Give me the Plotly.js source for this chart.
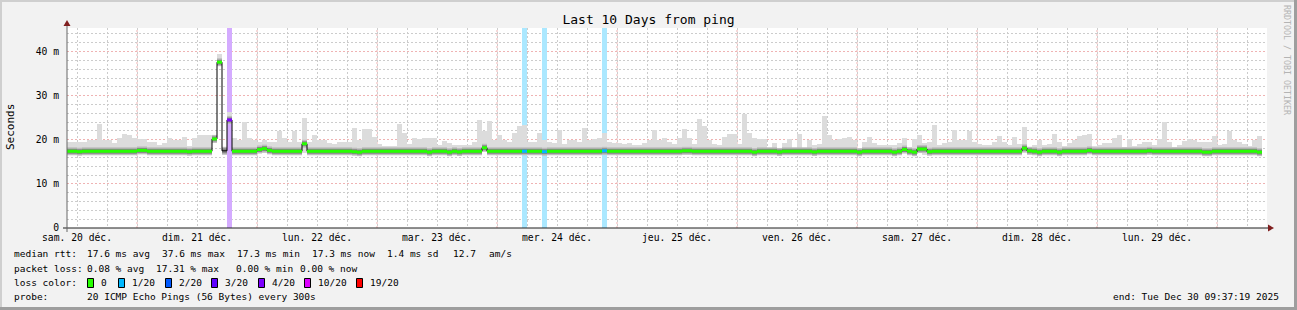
<!DOCTYPE html>
<html><head><meta charset="utf-8">
<script src="https://cdn.plot.ly/plotly-3.0.1.min.js"></script>
<style>html,body{margin:0;padding:0;background:#f2f2f2;}#chart{width:1297px;height:310px;}</style>
</head><body><div id="chart"></div>
<script>
// ---- data (one step = 1 hour, first step starts sam. 20 déc. 10:00) ----
const firstHour = 10;
const dayLabels = ['sam. 20 déc.','dim. 21 déc.','lun. 22 déc.','mar. 23 déc.','mer. 24 déc.','jeu. 25 déc.','ven. 26 déc.','sam. 27 déc.','dim. 28 déc.','lun. 29 déc.'];
const yTickVals = [0,10,20,30,40];
const yTickText = ['0','10 m','20 m','30 m','40 m'];
const yTop = 45.35;

const smokeMax = [
19.6,19.4,19.4,19.6,19.9,19.9,23.6,19.9,20.0,19.3, 20.4,21.3,21.0,20.4,20.2,20.2,19.6,19.6,18.9,19.3,
20.4,19.9,19.9,20.6,18.5,20.4,21.2,21.2,21.2,21.0, 39.5,null,26.4,20.4,19.9,24.0,20.4,20.0,19.6,19.9,
19.6,19.6,21.9,20.4,19.6,22.1,19.6,24.9,19.6,21.2, 20.0,20.0,19.3,19.1,19.4,19.4,19.6,22.7,19.9,22.5,
22.5,20.6,19.1,18.5,18.7,18.5,23.6,21.5,19.05,20.4, 20.2,20.4,20.4,20.4,18.9,19.8,19.3,18.75,18.9,18.75,
18.75,19.5,24.5,21.9,24.3,20.0,21.0,20.0,19.6,21.5, 23.05,23.4,19.6,19.4,21.5,20.0,19.6,19.3,22.15,19.1,
19.9,20.0,19.6,22.7,20.0,20.2,20.4,21.5,19.6,19.3, 19.3,19.1,19.3,18.75,18.9,19.3,20.0,22.15,19.9,20.4,
19.5,19.05,20.4,22.45,20.4,19.05,24.7,23.05,20.0,19.05, 18.9,20.6,21.3,21.3,19.05,25.85,21.5,20.4,20.2,20.2,
18.1,19.3,18.1,19.3,20.2,18.1,21.3,18.1,20.0,18.9, 19.1,25.5,21.0,20.0,20.2,20.4,20.6,20.0,18.1,19.5,
20.6,19.3,18.75,18.75,18.9,18.75,19.3,20.4,18.1,20.2, 21.2,19.3,19.6,23.4,18.9,19.3,19.6,22.15,19.9,19.9,
21.9,19.4,19.1,18.9,18.75,19.5,20.8,19.6,18.75,20.6, 19.1,22.9,18.1,18.75,20.0,18.75,19.1,21.3,19.6,18.5,
19.3,20.0,20.9,21.2,21.4,18.5,18.9,19.3,19.3,20.4, 21.0,18.4,20.2,18.5,19.05,19.6,19.4,18.9,20.2,24.0,
19.6,18.4,18.9,19.8,20.2,19.9,19.4,19.6,19.6,20.8, 18.9,19.1,21.9,19.9,19.4,19.1,18.7,20.0,20.8,null];

const smokeMin = [
16.9,16.9,16.8,16.9,16.9,16.9,16.8,16.9,16.5,16.5, 16.5,16.8,16.9,16.9,16.9,16.9,16.9,16.8,16.9,16.9,
16.9,16.9,16.9,16.9,16.9,16.9,16.9,16.9,16.9,19.8, 37.3,null,24.3,16.9,16.9,16.8,16.9,16.9,16.9,17.0,
16.9,16.9,16.9,16.9,16.9,16.9,16.9,17.1,16.9,16.9, 16.9,16.9,16.9,16.9,16.9,16.9,16.9,16.9,16.8,16.9,
16.9,16.9,16.9,16.9,16.9,16.9,16.9,16.9,16.9,16.9, 16.9,16.9,16.7,16.9,16.9,16.9,16.8,16.9,16.8,16.9,
16.9,16.9,16.9,17.9,16.9,16.9,16.9,16.9,16.9,16.9, 16.9,16.9,16.9,16.9,16.9,16.9,16.9,16.9,16.9,16.9,
16.9,16.9,16.9,16.9,16.9,16.9,16.9,16.9,16.9,16.9, 16.9,16.9,16.9,16.9,16.9,16.9,16.9,16.9,16.9,16.9,
16.9,16.9,16.9,16.9,16.9,16.9,16.9,16.9,16.9,16.9, 16.9,16.9,16.9,16.9,16.9,16.9,16.9,16.8,16.9,16.9,
16.9,16.9,16.8,16.9,16.9,16.9,16.9,16.9,16.9,16.8, 16.9,16.9,16.9,16.9,16.9,16.9,16.9,16.9,16.8,16.9,
16.9,16.9,16.9,16.9,16.9,16.8,16.9,16.9,16.9,16.8, 16.9,16.6,16.9,16.9,16.9,16.9,16.9,16.9,16.9,16.9,
16.9,16.9,16.9,16.9,16.9,16.9,16.9,16.9,16.9,16.9, 16.9,17.0,16.9,16.9,16.8,16.9,16.9,16.9,16.8,16.9,
16.9,16.9,16.9,16.9,16.9,16.9,16.9,16.9,16.9,16.9, 16.9,16.9,16.9,16.9,16.9,16.9,16.9,16.9,16.9,16.6,
16.9,16.9,16.9,16.9,16.9,16.9,16.9,16.8,16.8,16.9, 16.9,16.9,16.9,16.9,16.9,16.9,16.9,16.9,16.8,null];

const median = [
17.4,17.4,17.3,17.4,17.4,17.4,17.4,17.4,17.4,17.4, 17.4,17.4,17.4,17.4,17.6,17.6,17.4,17.4,17.4,17.4,
17.4,17.4,17.4,17.4,17.3,17.4,17.4,17.4,17.4,20.2, 37.6,17.5,24.5,17.4,17.4,17.4,17.4,17.4,17.8,18.0,
17.6,17.4,17.4,17.4,17.4,17.4,17.4,19.1,17.4,17.4, 17.4,17.4,17.4,17.4,17.4,17.4,17.4,17.3,17.2,17.4,
17.4,17.4,17.4,17.4,17.4,17.4,17.4,17.4,17.4,17.4, 17.4,17.4,17.2,17.4,17.4,17.4,17.2,17.4,17.25,17.4,
17.4,17.4,17.4,18.2,17.4,17.4,17.4,17.4,17.4,17.4, 17.4,17.4,17.4,17.4,17.4,17.3,17.4,17.4,17.4,17.4,
17.4,17.4,17.4,17.4,17.4,17.4,17.4,17.5,17.4,17.4, 17.4,17.4,17.4,17.4,17.4,17.4,17.4,17.4,17.4,17.4,
17.4,17.4,17.4,17.5,17.5,17.4,17.4,17.4,17.4,17.4, 17.4,17.4,17.4,17.4,17.4,17.4,17.4,17.2,17.4,17.4,
17.4,17.4,17.25,17.4,17.4,17.4,17.4,17.4,17.4,17.25, 17.4,17.4,17.4,17.4,17.4,17.4,17.4,17.4,17.2,17.4,
17.4,17.4,17.4,17.4,17.4,17.2,17.4,17.8,17.4,17.2, 17.9,17.9,17.3,17.4,17.4,17.4,17.4,17.4,17.4,17.4,
17.4,17.4,17.4,17.4,17.4,17.4,17.4,17.4,17.4,17.4, 17.4,18.1,17.5,17.4,17.2,17.4,17.4,17.4,17.2,17.4,
17.4,17.4,17.4,17.4,17.6,17.4,17.4,17.4,17.4,17.4, 17.4,17.4,17.4,17.4,17.4,17.4,17.5,17.4,17.4,17.4,
17.4,17.4,17.4,17.4,17.4,17.4,17.4,17.2,17.2,17.4, 17.4,17.4,17.4,17.4,17.4,17.4,17.4,17.4,17.2,null];

// packet loss per step, in pings lost out of 20 (null = unknown)
const loss = [
0,0,0,0,0,0,0,0,0,0, 0,0,0,0,0,0,0,0,0,0,
0,0,0,0,0,0,0,0,0,0, 0,null,4,0,0,0,0,0,0,0,
0,0,0,0,0,0,0,0,0,0, 0,0,0,0,0,0,0,0,0,0,
0,0,0,0,0,0,0,0,0,0, 0,0,0,0,0,0,0,0,0,0,
0,0,0,0,0,0,0,0,0,0, 0,1,0,0,0,1,0,0,0,0,
0,0,0,0,0,0,0,1,0,0, 0,0,0,0,0,0,0,0,0,0,
0,0,0,0,0,0,0,0,0,0, 0,0,0,0,0,0,0,0,0,0,
0,0,0,0,0,0,0,0,0,0, 0,0,0,0,0,0,0,0,0,0,
0,0,0,0,0,0,0,0,0,0, 0,0,0,0,0,0,0,0,0,0,
0,0,0,0,0,0,0,0,0,0, 0,0,0,0,0,0,0,0,0,0,
0,0,0,0,0,0,0,0,0,0, 0,0,0,0,0,0,0,0,0,0,
0,0,0,0,0,0,0,0,0,0, 0,0,0,0,0,0,0,0,0,null];

const lossLevels = [0,1,2,3,4,10,19];
const lossLabels = ['0','1/20','2/20','3/20','4/20','10/20','19/20'];
const lossColors = ['#26ff00','#00b8ff','#0059ff','#5e00ff','#7e00ff','#dd00ff','#ff0000'];

const titleText = 'Last 10 Days from ping';
const yTitle = 'Seconds';
const rttLine = ['median rtt:','17.6 ms avg','37.6 ms max','17.3 ms min','17.3 ms now','1.4 ms sd','12.7','am/s'];
const lossLine = ['packet loss:','0.08 % avg','17.31 % max','0.00 % min','0.00 % now'];
const colorLine = 'loss color:';
const probeLine = ['probe:','20 ICMP Echo Pings (56 Bytes) every 300s'];
const endText = 'end: Tue Dec 30 09:37:19 2025';
const watermark = 'RRDTOOL / TOBI OETIKER';

// ---- geometry helpers ----
const FW=1297, FH=310, L=67, T=28, W=1200, H=200;
const PX = p => (p - L) / W;
const PY = p => (T + H - p) / H;
const MONO = 'DejaVu Sans Mono, monospace';
const n = median.length;
const idx = median.map((_, i) => i);

function mixWhite(hex, a) {
  const r = parseInt(hex.slice(1,3),16), g = parseInt(hex.slice(3,5),16), b = parseInt(hex.slice(5,7),16);
  const m = c => Math.round(255 - a * (255 - c));
  return 'rgb(' + m(r) + ',' + m(g) + ',' + m(b) + ')';
}
function colorOf(l) {
  let c = lossColors[0];
  lossLevels.forEach((lv, k) => { if (l >= lv) c = lossColors[k]; });
  return c;
}
function segs(filter) {
  const xs = [], ys = [];
  idx.forEach(i => {
    if (median[i] === null || !filter(i)) return;
    xs.push(i, i + 1, null); ys.push(median[i], median[i], null);
  });
  return {xs, ys};
}

const traces = [];
const lossIdx = idx.filter(i => loss[i] !== null && loss[i] > 0);
traces.push({type:'bar', x: lossIdx.map(i => i + 0.5), y: lossIdx.map(() => yTop), base: 0, width: 1,
  marker:{color: lossIdx.map(i => mixWhite(colorOf(loss[i]), 0.33)), line:{width:0}}, hoverinfo:'skip'});
traces.push({type:'bar', x: idx.map(i => i + 0.5), base: smokeMin,
  y: idx.map(i => (smokeMax[i] === null || smokeMin[i] === null) ? null : smokeMax[i] - smokeMin[i]),
  width: 1, marker:{color:'#dcdcdc', line:{width:0}}, hoverinfo:'skip'});
const all = segs(i => true);
traces.push({type:'scatter', mode:'lines', x: all.xs, y: all.ys, line:{color:'#bdbdbd', width:8}, hoverinfo:'skip'});
traces.push({type:'scatter', mode:'lines', x: all.xs, y: all.ys, line:{color:'#858585', width:5}, hoverinfo:'skip'});
const bx = [], by = [];
idx.forEach(i => { if (median[i] !== null) { bx.push(i); by.push(median[i]); } });
bx.push(bx[bx.length-1] + 1); by.push(by[by.length-1]);
traces.push({type:'scatter', mode:'lines', x: bx, y: by, line:{color:'#000', width:1, shape:'hv'}, hoverinfo:'skip'});
lossLevels.forEach((lv, k) => {
  const s = segs(i => loss[i] !== null && colorOf(loss[i]) === lossColors[k]);
  if (s.xs.length) traces.push({type:'scatter', mode:'lines', x: s.xs, y: s.ys, line:{color: lossColors[k], width:3}, hoverinfo:'skip'});
});

// ---- axes ----
const noonVals = dayLabels.map((_, k) => 24 * k + (12 - firstHour));
const midnights = dayLabels.map((_, k) => 24 * k + (24 - firstHour)).filter(v => v < n);
const gridGray = '#cccccc', gridRed = '#efb3b3', DASH = '2px,2px';

const shapes = [];
midnights.forEach(v => shapes.push({type:'line', xref:'x', yref:'paper', x0:v, x1:v, y0:0, y1:1, layer:'between',
  line:{color:gridRed, width:1, dash:DASH}}));
shapes.push({type:'rect', xref:'paper', yref:'paper', x0:PX(0), x1:PX(FW), y0:PY(0), y1:PY(2), fillcolor:'#cfcfcf', line:{width:0}});
shapes.push({type:'rect', xref:'paper', yref:'paper', x0:PX(0), x1:PX(2), y0:PY(0), y1:PY(FH), fillcolor:'#cfcfcf', line:{width:0}});
shapes.push({type:'rect', xref:'paper', yref:'paper', x0:PX(FW-3), x1:PX(FW), y0:PY(0), y1:PY(FH), fillcolor:'#9e9e9e', line:{width:0}});
shapes.push({type:'rect', xref:'paper', yref:'paper', x0:PX(0), x1:PX(FW), y0:PY(FH-3), y1:PY(FH), fillcolor:'#9e9e9e', line:{width:0}});
shapes.push({type:'line', xref:'paper', yref:'paper', x0:PX(63), x1:PX(1270), y0:0, y1:0, line:{color:'#1f1f1f', width:1}});
shapes.push({type:'line', xref:'paper', yref:'paper', x0:0, x1:0, y0:PY(232), y1:PY(24), line:{color:'#666', width:1}});
shapes.push({type:'path', xref:'paper', yref:'paper', fillcolor:'#801f1f', line:{width:0},
  path:'M'+PX(63.5)+','+PY(26)+' L'+PX(70.5)+','+PY(26)+' L'+PX(67)+','+PY(20)+' Z'});
shapes.push({type:'path', xref:'paper', yref:'paper', fillcolor:'#801f1f', line:{width:0},
  path:'M'+PX(1268)+','+PY(224.5)+' L'+PX(1268)+','+PY(231.5)+' L'+PX(1274)+','+PY(228)+' Z'});

// ---- text ----
const ann = [];
function txt(t, px, py, opt) {
  ann.push(Object.assign({text:t, xref:'paper', yref:'paper', x:PX(px), y:PY(py), xanchor:'left', yanchor:'middle',
    showarrow:false, font:{family:MONO, size:9.5, color:'#000'}, borderpad:0}, opt || {}));
}
const rttX = [13, 86, 161, 236, 311, 386, 452, 488];
rttLine.forEach((t, k) => txt(t, rttX[k], 254));
const lossX = [13, 86, 155, 235, 299];
lossLine.forEach((t, k) => txt(t, lossX[k], 268));
txt(colorLine, 13, 282);
const boxX = [87, 118, 165, 211, 258, 304, 356];
lossLabels.forEach((t, k) => {
  shapes.push({type:'rect', xref:'paper', yref:'paper', x0:PX(boxX[k]+0.5), x1:PX(boxX[k]+6.5), y0:PY(287.5), y1:PY(278.5),
    fillcolor:lossColors[k], line:{color:'#000', width:1}});
  txt(t, boxX[k] + 13, 282);
});
txt(probeLine[0], 13, 296);
txt(probeLine[1], 86, 296);
txt(endText, 1280, 296, {xanchor:'right'});
txt(yTitle, 10, 127, {textangle:-90, xanchor:'center', font:{family:MONO, size:11, color:'#000'}});
txt(watermark, 1287, 60, {textangle:90, xanchor:'center', font:{family:MONO, size:8.3, color:'#b4b4b4'}});

const layout = {
  width: FW, height: FH, margin:{l:L, r:FW-L-W, t:T, b:FH-T-H, pad:0},
  paper_bgcolor:'#f2f2f2', plot_bgcolor:'#ffffff', showlegend:false,
  barmode:'overlay', bargap:0,
  title:{text:titleText, x:0.5, xref:'container', xanchor:'center', y:1 - 19/FH, yref:'container', yanchor:'middle',
    font:{family:MONO, size:13, color:'#000'}},
  xaxis:{range:[0, n], tickmode:'array', tickvals:noonVals, ticktext:dayLabels, ticks:'', showline:false, zeroline:false,
    showgrid:true, gridcolor:gridGray, griddash:DASH, gridwidth:1, ticklabelstandoff:2,
    minor:{tick0:(12 - firstHour) % 6, dtick:6, showgrid:true, gridcolor:gridGray, griddash:DASH, gridwidth:1, ticks:''},
    tickfont:{family:MONO, size:9.7, color:'#000'}, fixedrange:true},
  yaxis:{range:[0, yTop], tickmode:'array', tickvals:yTickVals, ticktext:yTickText, ticks:'', showline:false, zeroline:false,
    showgrid:true, gridcolor:gridRed, griddash:DASH, gridwidth:1, ticklabelstandoff:7,
    minor:{tick0:0, dtick:2, showgrid:true, gridcolor:gridGray, griddash:DASH, gridwidth:1, ticks:''},
    tickfont:{family:MONO, size:9.7, color:'#000'}, fixedrange:true},
  shapes: shapes, annotations: ann
};
Plotly.newPlot('chart', traces, layout, {staticPlot:true, displayModeBar:false});
</script></body></html>
